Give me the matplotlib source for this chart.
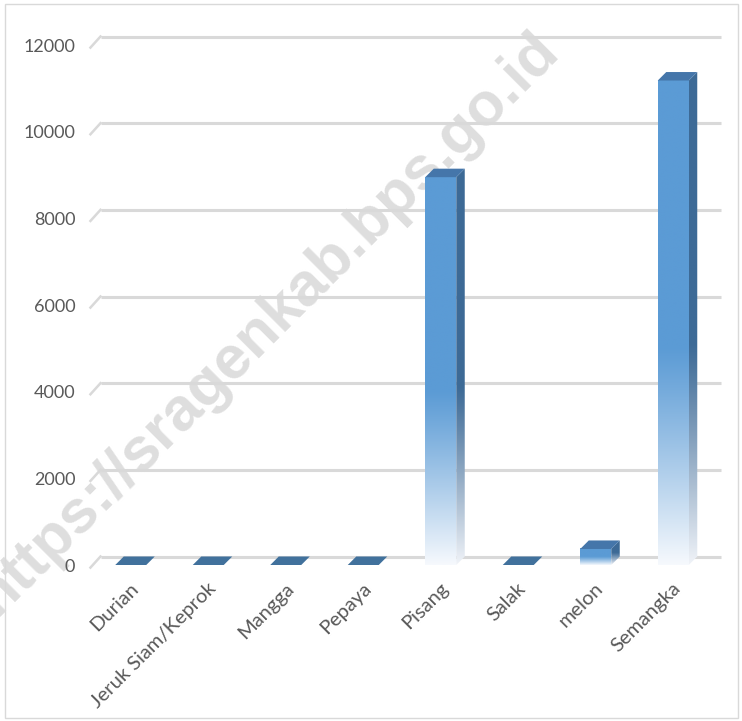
import numpy as np
import matplotlib
matplotlib.use("Agg")
import matplotlib.pyplot as plt
from matplotlib.patches import Polygon, Rectangle
from matplotlib.colors import to_rgba
import matplotlib.transforms as mtransforms

# data
kategori = ["Durian", "Jeruk Siam/Keprok", "Mangga", "Pepaya", "Pisang",
            "Salak", "melon", "Semangka"]
produksi = [0, 0, 0, 0, 8950, 0, 370, 11180]
yticks = [0, 2000, 4000, 6000, 8000, 10000, 12000]

W, H = 742, 721
fig = plt.figure(figsize=(W / 100, H / 100), dpi=100)
# front plane of the plot: x 92..712 px, y 565..45 px (from top)
ax = fig.add_axes([92 / W, 1 - 565 / H, 620 / W, 520 / H])
ax.set_xlim(-0.5, 7.5)
ax.set_ylim(0, 12000)

# 3d depth in data units (about 8.5 px each way)
dx = 8.5 / 77.5
dy = 8.5 / (520 / 12000)
bw = 0.40

grid_c = "#D9D9D9"
for v in yticks:
    ax.plot([-0.5 + dx, 7.5 + dx], [v + dy, v + dy], color=grid_c, lw=2.2,
            clip_on=False, zorder=1, solid_capstyle="butt")
    ax.plot([-0.5 - 0.02, -0.5 + dx], [v - 60, v + dy], color=grid_c, lw=1.8,
            clip_on=False, zorder=1)


def grad_img(c_top, c_bot, start, n=256):
    top = np.array(to_rgba(c_top))
    bot = np.array(to_rgba(c_bot))
    t = np.linspace(0, 1, n)  # 0 = top
    f = np.clip((t - start) / (1 - start), 0, 1) ** 1.1
    arr = top[None, :] * (1 - f[:, None]) + bot[None, :] * f[:, None]
    return arr[:, None, :]


front_top, front_bot = "#5B9BD5", "#F6F9FD"
side_top, side_bot = "#3D6A96", "#F0F3F8"
top_face = "#4576AA"
flat_c = "#41719C"

for i, v in enumerate(produksi):
    x0, x1 = i - bw / 2, i + bw / 2
    if v <= 0:
        ax.add_patch(Polygon([(x0, 0), (x1, 0), (x1 + dx, dy), (x0 + dx, dy)],
                             closed=True, fc=flat_c, ec="none", zorder=3,
                             clip_on=False))
        continue
    start = 0.55 if v > 2000 else 0.5
    # front face
    ax.imshow(grad_img(front_top, front_bot, start), extent=(x0, x1, 0, v),
              aspect="auto", zorder=4, interpolation="bilinear")
    # side face
    side = Polygon([(x1, 0), (x1 + dx, dy), (x1 + dx, v + dy), (x1, v)],
                   closed=True, fc="none", ec="none")
    ax.add_patch(side)
    im = ax.imshow(grad_img(side_top, side_bot, start),
                   extent=(x1, x1 + dx, 0, v + dy), aspect="auto", zorder=4,
                   interpolation="bilinear")
    im.set_clip_path(side)
    # top face
    ax.add_patch(Polygon([(x0, v), (x1, v), (x1 + dx, v + dy), (x0 + dx, v + dy)],
                         closed=True, fc=top_face, ec="none", zorder=5))

ax.set_xlim(-0.5, 7.5)
ax.set_ylim(0, 12000)
for s in ax.spines.values():
    s.set_visible(False)
ax.set_facecolor("none")

ax.set_yticks(yticks)
ax.set_yticklabels([str(v) for v in yticks], fontsize=13, color="#595959",
                   family="Lato")
ax.tick_params(axis="y", length=0, pad=12)

ax.set_xticks(range(len(kategori)))
ax.set_xticklabels(kategori, rotation=45, ha="right", va="center",
                   rotation_mode="anchor", fontsize=14.5, color="#595959",
                   family="Lato")
ax.tick_params(axis="x", length=0, pad=15)
off = mtransforms.ScaledTranslation(5 / 100, 0, fig.dpi_scale_trans)
for lab in ax.get_xticklabels():
    lab.set_transform(lab.get_transform() + off)

# watermark behind the bars
fig.text(268 / W, 1 - 324 / H, "https://sragenkab.bps.go.id", rotation=45,
         ha="center", va="center", fontsize=44, fontweight="bold",
         family="Liberation Sans", color="#DEDEDE", zorder=-1)

# chart border
fig.patches.append(Rectangle((5 / W, 3 / H), 733 / W, 714 / H,
                             transform=fig.transFigure, fill=False,
                             ec="#D9D9D9", lw=1))

fig.savefig("out.png", dpi=100)
